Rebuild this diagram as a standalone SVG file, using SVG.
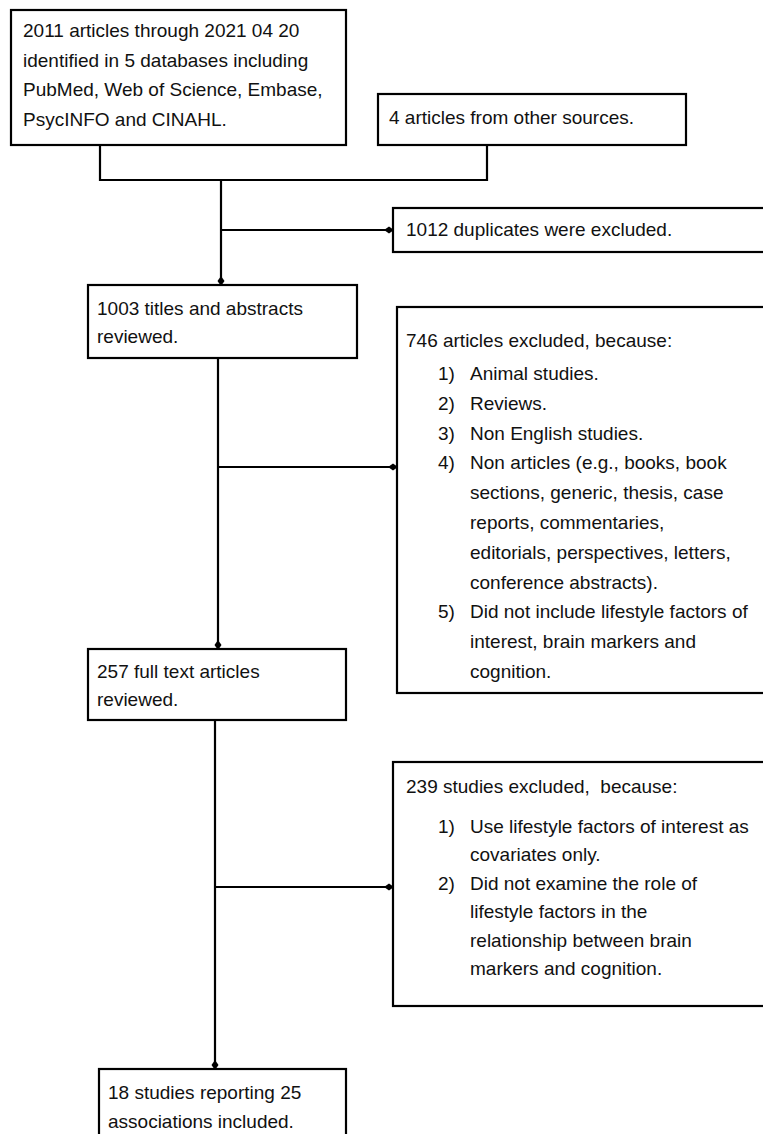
<svg xmlns="http://www.w3.org/2000/svg" width="763" height="1134" viewBox="0 0 763 1134">
<style>
.box{fill:#fff;stroke:#000;stroke-width:2.2}
.ln{fill:none;stroke:#000;stroke-width:2.2}
text{font-family:"Liberation Sans",Arial,sans-serif;font-size:19px;fill:#111}
</style>
<defs>
<marker id="ah" viewBox="0 0 10 8" refX="9" refY="4" markerWidth="10" markerHeight="8" markerUnits="userSpaceOnUse" orient="auto">
<path d="M0,4 L5,0.5 L10,4 L5,7.5 Z" fill="#000"/>
</marker>
</defs>
<rect width="763" height="1134" fill="#fff"/>
<g id="connectors">
<path class="ln" d="M100,145 V180 H487 V145"/>
<path class="ln" d="M221,180 V285" marker-end="url(#ah)"/>
<path class="ln" d="M221,230 H393" marker-end="url(#ah)"/>
<path class="ln" d="M218,358 V649" marker-end="url(#ah)"/>
<path class="ln" d="M218,467 H397" marker-end="url(#ah)"/>
<path class="ln" d="M215,720 V1069" marker-end="url(#ah)"/>
<path class="ln" d="M215,887 H393" marker-end="url(#ah)"/>
</g>
<g id="n1">
<rect class="box" x="11" y="10" width="335" height="135"/>
<text x="23" y="37">2011 articles through 2021 04 20</text>
<text x="23" y="67">identified in 5 databases including</text>
<text x="23" y="96">PubMed, Web of Science, Embase,</text>
<text x="23" y="126">PsycINFO and CINAHL.</text>
</g>
<g id="n2">
<rect class="box" x="378" y="94" width="308" height="51"/>
<text x="389" y="124">4 articles from other sources.</text>
</g>
<g id="n3">
<rect class="box" x="393" y="208" width="390" height="44"/>
<text x="406" y="236">1012 duplicates were excluded.</text>
</g>
<g id="n4">
<rect class="box" x="88" y="285" width="269" height="73"/>
<text x="97" y="315">1003 titles and abstracts</text>
<text x="97" y="343">reviewed.</text>
</g>
<g id="n5">
<rect class="box" x="397" y="307" width="390" height="386"/>
<text x="406" y="347">746 articles excluded, because:</text>
<text x="438" y="380">1)</text><text x="470" y="380">Animal studies.</text>
<text x="438" y="410">2)</text><text x="470" y="410">Reviews.</text>
<text x="438" y="440">3)</text><text x="470" y="440">Non English studies.</text>
<text x="438" y="469">4)</text><text x="470" y="469">Non articles (e.g., books, book</text>
<text x="470" y="499">sections, generic, thesis, case</text>
<text x="470" y="529">reports, commentaries,</text>
<text x="470" y="559">editorials, perspectives, letters,</text>
<text x="470" y="589">conference abstracts).</text>
<text x="438" y="618">5)</text><text x="470" y="618">Did not include lifestyle factors of</text>
<text x="470" y="648">interest, brain markers and</text>
<text x="470" y="678">cognition.</text>
</g>
<g id="n6">
<rect class="box" x="88" y="649" width="258" height="71"/>
<text x="97" y="678">257 full text articles</text>
<text x="97" y="706">reviewed.</text>
</g>
<g id="n7">
<rect class="box" x="393" y="762" width="390" height="244"/>
<text x="406" y="793" xml:space="preserve">239 studies excluded,  because:</text>
<text x="438" y="833">1)</text><text x="470" y="833">Use lifestyle factors of interest as</text>
<text x="470" y="861">covariates only.</text>
<text x="438" y="890">2)</text><text x="470" y="890">Did not examine the role of</text>
<text x="470" y="918">lifestyle factors in the</text>
<text x="470" y="947">relationship between brain</text>
<text x="470" y="975">markers and cognition.</text>
</g>
<g id="n8">
<rect class="box" x="99" y="1069" width="247" height="80"/>
<text x="108" y="1099">18 studies reporting 25</text>
<text x="108" y="1128">associations included.</text>
</g>
</svg>
